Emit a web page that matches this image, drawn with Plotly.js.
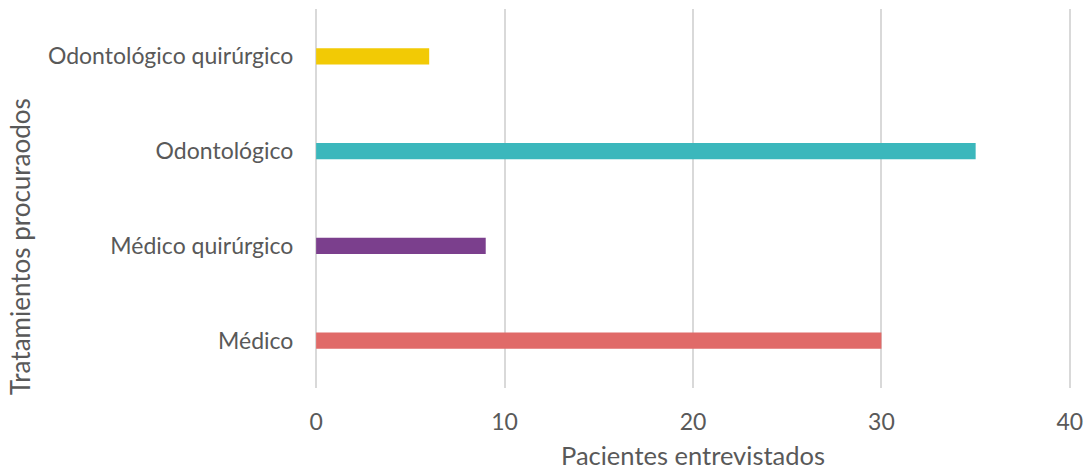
<!DOCTYPE html>
<html>
<head>
<meta charset="utf-8">
<script src="https://cdn.plot.ly/plotly-3.0.1.min.js"></script>
<style>html,body{margin:0;padding:0;background:#fff}#chart{width:1085px;height:473px}</style>
</head>
<body>
<div id="chart"></div>
<script>
const categories = ["Médico", "Médico quirúrgico", "Odontológico", "Odontológico quirúrgico"];
const values = [30, 9, 35, 6];
const xTicks = [0, 10, 20, 30, 40];
const xTitle = "Pacientes entrevistados";
const yTitle = "Tratamientos procuraodos";
const barColors = ["#E06A68", "#7B3F8D", "#3BB7BC", "#F2CA05"];

const trace = {
  type: "bar",
  orientation: "h",
  y: categories,
  x: values,
  width: 0.17,
  marker: {color: barColors},
  hoverinfo: "x+y"
};

const layout = {
  width: 1085, height: 473,
  margin: {l: 315, r: 14, t: 9, b: 85},
  paper_bgcolor: "#fff", plot_bgcolor: "#fff",
  font: {family: "Lato, 'Open Sans', sans-serif", color: "#595959", size: 23},
  showlegend: false,
  xaxis: {
    range: [-0.06, 40.06],
    tickvals: xTicks,
    ticktext: xTicks.map(String),
    showgrid: true, gridcolor: "#D9D9D9", gridwidth: 2,
    zeroline: false, showline: false,
    ticks: "outside", ticklen: 13, tickcolor: "rgba(0,0,0,0)",
    tickfont: {size: 23, color: "#595959"},
    fixedrange: true
  },
  yaxis: {
    type: "category",
    categoryorder: "array", categoryarray: categories,
    range: [-0.5, 3.5],
    showgrid: false, zeroline: false, showline: false,
    ticks: "outside", ticklen: 16, tickcolor: "rgba(0,0,0,0)",
    tickfont: {size: 23, color: "#595959"},
    fixedrange: true
  },
  annotations: [
    {text: xTitle, xref: "paper", yref: "paper", x: 0.5, y: -0.178,
     xanchor: "center", yanchor: "middle", showarrow: false, borderpad: 0,
     font: {size: 25.5, color: "#595959"}},
    {text: yTitle, xref: "paper", yref: "paper", x: -0.39, y: 0.372,
     xanchor: "center", yanchor: "middle", showarrow: false, textangle: -90,
     font: {size: 26, color: "#595959"}}
  ]
};

Plotly.newPlot("chart", [trace], layout, {displayModeBar: false, staticPlot: true});
</script>
</body>
</html>
